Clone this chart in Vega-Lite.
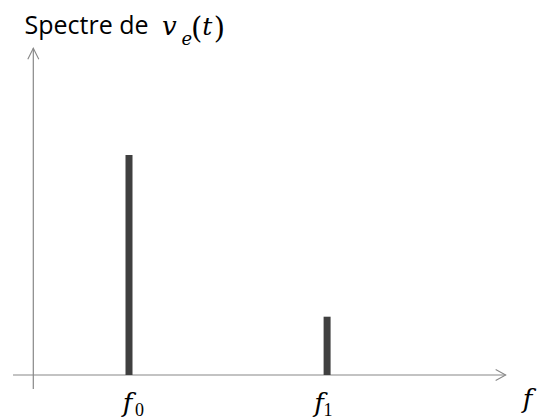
{
  "$schema": "https://vega.github.io/schema/vega-lite/v6.json",
  "width": 545,
  "height": 417,
  "autosize": "none",
  "padding": 0,
  "background": "white",
  "config": {"view": {"stroke": null}},
  "data": {"values": [
    {"f": 1.0, "A": 1.0, "n": "0"},
    {"f": 3.07, "A": 0.265, "n": "1"}
  ]},
  "layer": [
    {
      "data": {"values": [{}]},
      "mark": {"type": "rule", "color": "#888888", "strokeWidth": 1.2},
      "encoding": {
        "x": {"datum": -0.212, "type": "quantitative", "scale": {"domain": [-0.348, 5.347], "nice": false, "zero": false}, "axis": null},
        "x2": {"datum": 4.936},
        "y": {"datum": 0, "type": "quantitative", "scale": {"domain": [-0.1909, 1.7045], "nice": false, "zero": false}, "axis": null}
      }
    },
    {
      "data": {"values": [{}]},
      "mark": {"type": "rule", "color": "#888888", "strokeWidth": 1.2},
      "encoding": {
        "x": {"datum": 0, "type": "quantitative"},
        "y": {"datum": -0.0636, "type": "quantitative"},
        "y2": {"datum": 1.485}
      }
    },
    {
      "data": {"values": [{}]},
      "mark": {"type": "point", "shape": "M -2 -1.1 L 0 0 L -2 1.1", "filled": false, "size": 100, "stroke": "#888888", "strokeWidth": 1.1, "opacity": 1},
      "encoding": {
        "x": {"datum": 4.936, "type": "quantitative"},
        "y": {"datum": 0, "type": "quantitative"}
      }
    },
    {
      "data": {"values": [{}]},
      "mark": {"type": "point", "shape": "M -1.1 2.2 L 0 0 L 1.1 2.2", "filled": false, "size": 100, "stroke": "#888888", "strokeWidth": 1.1, "opacity": 1},
      "encoding": {
        "x": {"datum": 0, "type": "quantitative"},
        "y": {"datum": 1.485, "type": "quantitative"}
      }
    },
    {
      "mark": {"type": "rule", "color": "#404040", "strokeWidth": 7, "strokeCap": "butt"},
      "encoding": {
        "x": {"field": "f", "type": "quantitative"},
        "y": {"field": "A", "type": "quantitative"},
        "y2": {"datum": 0}
      }
    },
    {
      "data": {"values": [{}]},
      "mark": {"type": "text", "text": "f", "font": "DejaVu Serif", "fontStyle": "italic", "fontSize": 26, "align": "center", "baseline": "alphabetic", "color": "#000000"},
      "encoding": {"x": {"datum": 0.984, "type": "quantitative"}, "y": {"datum": -0.167, "type": "quantitative"}}
    },
    {
      "data": {"values": [{}]},
      "mark": {"type": "text", "text": "0", "font": "Liberation Serif", "fontSize": 18, "align": "left", "baseline": "alphabetic", "color": "#000000"},
      "encoding": {"x": {"datum": 1.0627, "type": "quantitative"}, "y": {"datum": -0.186, "type": "quantitative"}}
    },
    {
      "data": {"values": [{}]},
      "mark": {"type": "text", "text": "f", "font": "DejaVu Serif", "fontStyle": "italic", "fontSize": 26, "align": "center", "baseline": "alphabetic", "color": "#000000"},
      "encoding": {"x": {"datum": 2.985, "type": "quantitative"}, "y": {"datum": -0.166, "type": "quantitative"}}
    },
    {
      "data": {"values": [{}]},
      "mark": {"type": "text", "text": "1", "font": "Liberation Serif", "fontSize": 18, "align": "left", "baseline": "alphabetic", "color": "#000000"},
      "encoding": {"x": {"datum": 3.032, "type": "quantitative"}, "y": {"datum": -0.185, "type": "quantitative"}}
    },
    {
      "data": {"values": [{}]},
      "mark": {"type": "text", "text": "f", "font": "DejaVu Serif", "fontStyle": "italic", "fontSize": 26, "align": "center", "baseline": "alphabetic", "color": "#000000"},
      "encoding": {"x": {"datum": 5.164, "type": "quantitative"}, "y": {"datum": -0.149, "type": "quantitative"}}
    },
    {
      "data": {"values": [{}]},
      "mark": {"type": "text", "text": "Spectre de", "font": "Open Sans", "fontSize": 25, "align": "left", "baseline": "alphabetic", "color": "#000000"},
      "encoding": {"x": {"datum": -0.092, "type": "quantitative"}, "y": {"datum": 1.5486, "type": "quantitative"}}
    },
    {
      "data": {"values": [{}]},
      "mark": {"type": "text", "text": "v", "font": "DejaVu Serif", "fontStyle": "italic", "fontSize": 26, "align": "left", "baseline": "alphabetic", "color": "#000000"},
      "encoding": {"x": {"datum": 1.3448, "type": "quantitative"}, "y": {"datum": 1.5432, "type": "quantitative"}}
    },
    {
      "data": {"values": [{}]},
      "mark": {"type": "text", "text": "e", "font": "DejaVu Serif", "fontStyle": "italic", "fontSize": 18, "align": "left", "baseline": "alphabetic", "color": "#000000"},
      "encoding": {"x": {"datum": 1.5486, "type": "quantitative"}, "y": {"datum": 1.4977, "type": "quantitative"}}
    },
    {
      "data": {"values": [{}]},
      "mark": {"type": "text", "text": "(", "font": "DejaVu Serif", "fontSize": 29, "align": "left", "baseline": "alphabetic", "color": "#000000"},
      "encoding": {"x": {"datum": 1.648, "type": "quantitative"}, "y": {"datum": 1.5318, "type": "quantitative"}}
    },
    {
      "data": {"values": [{}]},
      "mark": {"type": "text", "text": "t", "font": "DejaVu Serif", "fontStyle": "italic", "fontSize": 25, "align": "left", "baseline": "alphabetic", "color": "#000000"},
      "encoding": {"x": {"datum": 1.765, "type": "quantitative"}, "y": {"datum": 1.5432, "type": "quantitative"}}
    },
    {
      "data": {"values": [{}]},
      "mark": {"type": "text", "text": ")", "font": "DejaVu Serif", "fontSize": 29, "align": "right", "baseline": "alphabetic", "color": "#000000"},
      "encoding": {"x": {"datum": 2.003, "type": "quantitative"}, "y": {"datum": 1.5318, "type": "quantitative"}}
    }
  ]
}
